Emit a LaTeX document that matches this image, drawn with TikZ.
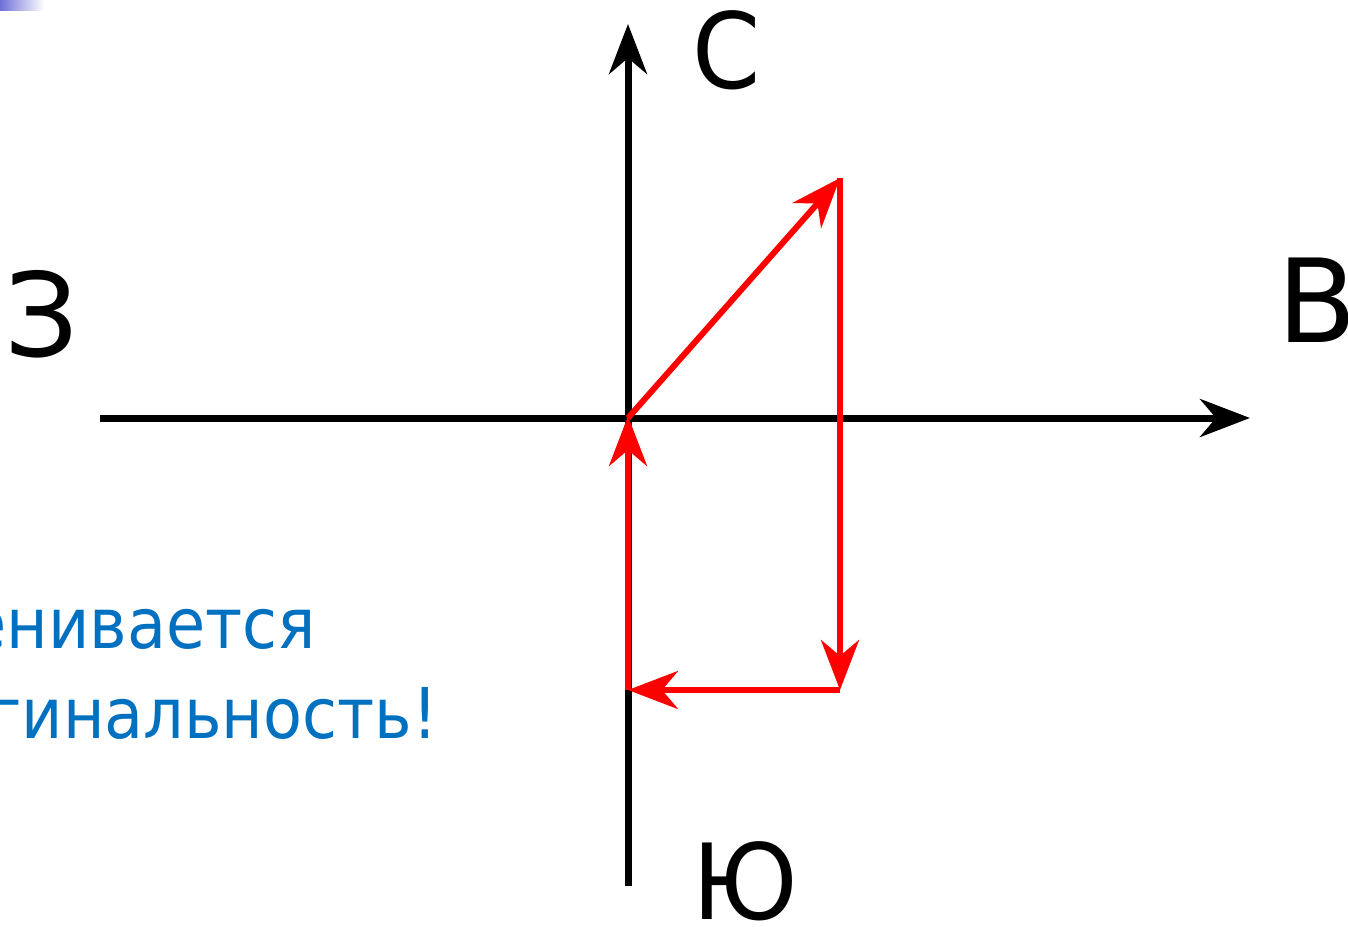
\documentclass[tikz,border=0pt]{standalone}
\usepackage{fontspec}
\setmainfont{DejaVu Sans}
\newfontfamily\narrowfont[FakeStretch=0.91]{DejaVu Sans}
\newfontfamily\labelfont[FakeStretch=0.93]{DejaVu Sans}
\usetikzlibrary{arrows.meta}
\definecolor{axisred}{RGB}{255,0,0}
\definecolor{textblue}{RGB}{0,112,192}
\definecolor{cornerblue}{RGB}{112,112,216}
\tikzset{
  axis/.style={line width=7pt, black, -{Stealth[length=50pt,width=38pt,inset=16pt]}},
  axisplain/.style={line width=7pt, black},
  vec/.style={line width=6pt, axisred, -{Stealth[length=50pt,width=38pt,inset=16pt]}},
  dirlabel/.style={font=\fontsize{116}{120}\selectfont, inner sep=0pt},
  dirlabelsmall/.style={font=\labelfont\fontsize{105}{110}\selectfont, inner sep=0pt},
  note/.style={font=\narrowfont\fontsize{70}{76}\selectfont, text=textblue, inner sep=0pt, anchor=base east}
}
\begin{document}
\begin{tikzpicture}[x=1pt,y=-1pt]
\useasboundingbox (0,0) rectangle (1348,926);
\shade[left color=cornerblue, right color=white] (0,0) rectangle (44,10);
\coordinate (O) at (628,418);
\coordinate (W) at (100,418);
\coordinate (E) at (1250,418);
\coordinate (N) at (628,24);
\coordinate (S) at (628,886);
\coordinate (P) at (840,178);
\coordinate (Q) at (840,690);
\coordinate (R) at (628,690);
\draw[axis] (W) -- (E);
\draw[axisplain] (S) -- (O);
\draw[axis] (O) -- (N);
\draw[vec] (O) -- (P);
\draw[vec, line cap=butt] (P) -- (Q);
\draw[vec] (Q) -- (R);
\draw[vec, shorten >=-2pt] (R) -- (O);
\node[dirlabelsmall] (lc) at (727,50) {С};
\node[dirlabel] (lz) at (42,314) {З};
\node[dirlabel] (lv) at (1317,300) {В};
\node[dirlabelsmall] (lyu) at (745,881) {Ю};
\node[note] (t1) at (316,648) {енивается};
\node[note] (t2) at (438,738) {гинальность!};
\end{tikzpicture}
\end{document}
